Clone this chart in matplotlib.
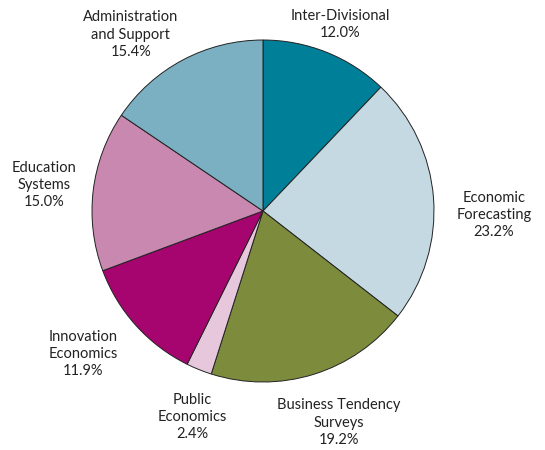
import numpy as np
import matplotlib
matplotlib.use('Agg')
import matplotlib.pyplot as plt

# Répartition par division (%)
labels = ['Inter-Divisional', 'Economic\nForecasting', 'Business Tendency\nSurveys',
          'Public\nEconomics', 'Innovation\nEconomics', 'Education\nSystems',
          'Administration\nand Support']
values = [12.0, 23.2, 19.2, 2.4, 11.9, 15.0, 15.4]
colors = ['#007f99', '#c5d9e2', '#7d8c3c', '#e6c7dc', '#a6056f', '#c888b0', '#7ab0c2']

# distance / angle nudge of each label relative to the wedge middle
label_dist = [1.18, 1.35, 1.316, 1.275, 1.345, 1.29, 1.29]
label_nudge = [-0.7, -5.3, 2.5, 3.0, -3.6, 0.0, 8.9]

plt.rcParams['font.family'] = ['Lato', 'DejaVu Sans']

fig = plt.figure(figsize=(5.45, 4.5), dpi=100)
ax = fig.add_axes([0.1688, 0.1511, 0.6275, 0.76])
wedges, _ = ax.pie(values, colors=colors, startangle=90, counterclock=False,
                   radius=1, wedgeprops=dict(edgecolor='#222222', linewidth=0.7))
ax.set_xlim(-1, 1)
ax.set_ylim(-1, 1)
ax.set_aspect('equal')
ax.axis('off')

for w, lab, v, d, n in zip(wedges, labels, values, label_dist, label_nudge):
    ang = np.deg2rad((w.theta1 + w.theta2) / 2 + n)
    ax.text(d * np.cos(ang), d * np.sin(ang), f'{lab}\n{v:.1f}%',
            ha='center', va='center', fontsize=10.5, color='#222222',
            linespacing=1.3, clip_on=False)

plt.savefig('out.png', dpi=100)
